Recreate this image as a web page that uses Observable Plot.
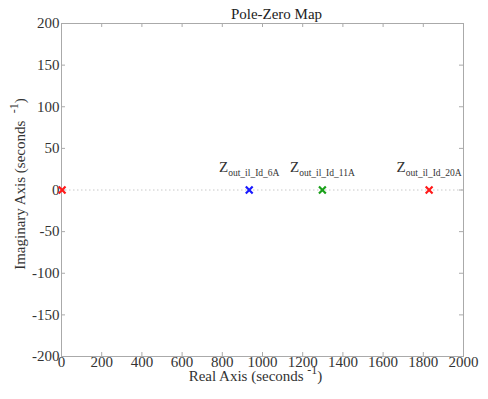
<!DOCTYPE html>
<html><head><meta charset="utf-8">
<script src="https://cdn.jsdelivr.net/npm/d3@7"></script>
<script src="https://cdn.jsdelivr.net/npm/@observablehq/plot@0.6"></script>
<style>body{margin:0;background:#fff} svg, svg text{font-family:"Liberation Serif","Times New Roman",serif !important;}</style>
</head><body><div id="chart"></div>
<script>
// Pole locations
const poleLabels = ["", "Z_{out_il_Id_6A}", "Z_{out_il_Id_11A}", "Z_{out_il_Id_20A}"];
const realParts = [3, 934, 1298, 1829];
const imagParts = [0, 0, 0, 0];
const poleColors = ["#ff1a1a", "#1a1aff", "#1aa01a", "#ff1a1a"];
const xTicks = [0, 200, 400, 600, 800, 1000, 1200, 1400, 1600, 1800, 2000];
const yTicks = [-200, -150, -100, -50, 0, 50, 100, 150, 200];
const titleText = "Pole-Zero Map";
const xLabelText = "Real Axis (seconds ^{-1})";
const yLabelText = "Imaginary Axis (seconds  ^{-1})";

const poles = realParts.map((re, i) => ({re, im: imagParts[i], label: poleLabels[i], color: poleColors[i]}));

const W = 488, H = 399;
const mL = 61, mR = 25, mT = 23, mB = 43;
const fw = W - mL - mR, fh = H - mT - mB;
const font = "Liberation Serif, Times New Roman, serif";
const tickLen = 4;

const chart = Plot.plot({
  width: W, height: H,
  marginLeft: mL, marginRight: mR, marginTop: mT, marginBottom: mB,
  style: {fontFamily: font, fontSize: "15px", color: "#333", background: "#fff"},
  x: {domain: [0, 2000], label: null},
  y: {domain: [-200, 200], label: null},
  marks: [
    Plot.ruleY([0], {stroke: "#c8c8c8", strokeDasharray: "1.5,2.5", strokeWidth: 1}),
    Plot.ruleX(xTicks, {stroke: "#aaa", insetTop: fh - tickLen}),
    Plot.ruleX(xTicks, {stroke: "#aaa", insetBottom: fh - tickLen}),
    Plot.ruleY(yTicks, {stroke: "#aaa", insetRight: fw - tickLen}),
    Plot.ruleY(yTicks, {stroke: "#aaa", insetLeft: fw - tickLen}),
    Plot.frame({stroke: "#aaa"}),
    Plot.axisX({ticks: xTicks, tickFormat: d => String(d), tickSize: 0, tickPadding: 0, fontSize: 15, fontFamily: font, fill: "#333", label: null}),
    Plot.axisY({ticks: yTicks, tickFormat: d => String(d), tickSize: 0, tickPadding: 2, fontSize: 15, fontFamily: font, fill: "#333", label: null}),
    Plot.dot(poles, {x: "re", y: "im", symbol: "times", r: 3.2, stroke: "color", strokeWidth: 2.2}),
    Plot.text(poles.filter(d => d.label), {x: "re", y: "im", text: "label", dy: -18, lineAnchor: "bottom", fontSize: 15, fontFamily: font, fill: "#333", className: "rich"}),
    Plot.text([titleText], {frameAnchor: "top", dx: 14, dy: -5, lineAnchor: "bottom", fontSize: 15, fontFamily: font, fill: "#222"}),
    Plot.text([xLabelText], {frameAnchor: "bottom", textAnchor: "middle", dx: -7, dy: 24, lineAnchor: "bottom", fontSize: 15, fontFamily: font, fill: "#333", className: "rich"}),
    Plot.text([yLabelText], {frameAnchor: "left", textAnchor: "middle", dx: -37, dy: -6, rotate: -90, lineAnchor: "bottom", fontSize: 15, fontFamily: font, fill: "#333", className: "rich"})
  ]
});

// Convert _{...} / ^{...} into sub/superscript tspans
d3.select(chart).selectAll("g.rich text").each(function() {
  const el = this;
  const s = el.textContent;
  const parts = s.split(/([_^]\{[^}]*\})/).filter(p => p.length);
  if (parts.length < 2) return;
  el.textContent = "";
  let shift = 0;
  const ns = "http://www.w3.org/2000/svg";
  for (const p of parts) {
    const t = document.createElementNS(ns, "tspan");
    let target = 0;
    if (p.startsWith("_{")) {
      t.textContent = p.slice(2, -1);
      t.setAttribute("font-size", "9.5");
      target = 4;
    } else if (p.startsWith("^{")) {
      t.textContent = p.slice(2, -1);
      t.setAttribute("font-size", "12");
      target = -7;
    } else {
      t.textContent = p;
      target = 0;
    }
    if (target !== shift) { t.setAttribute("dy", String(target - shift)); shift = target; }
    el.appendChild(t);
  }
});

document.getElementById("chart").appendChild(chart);
</script>
</body></html>
